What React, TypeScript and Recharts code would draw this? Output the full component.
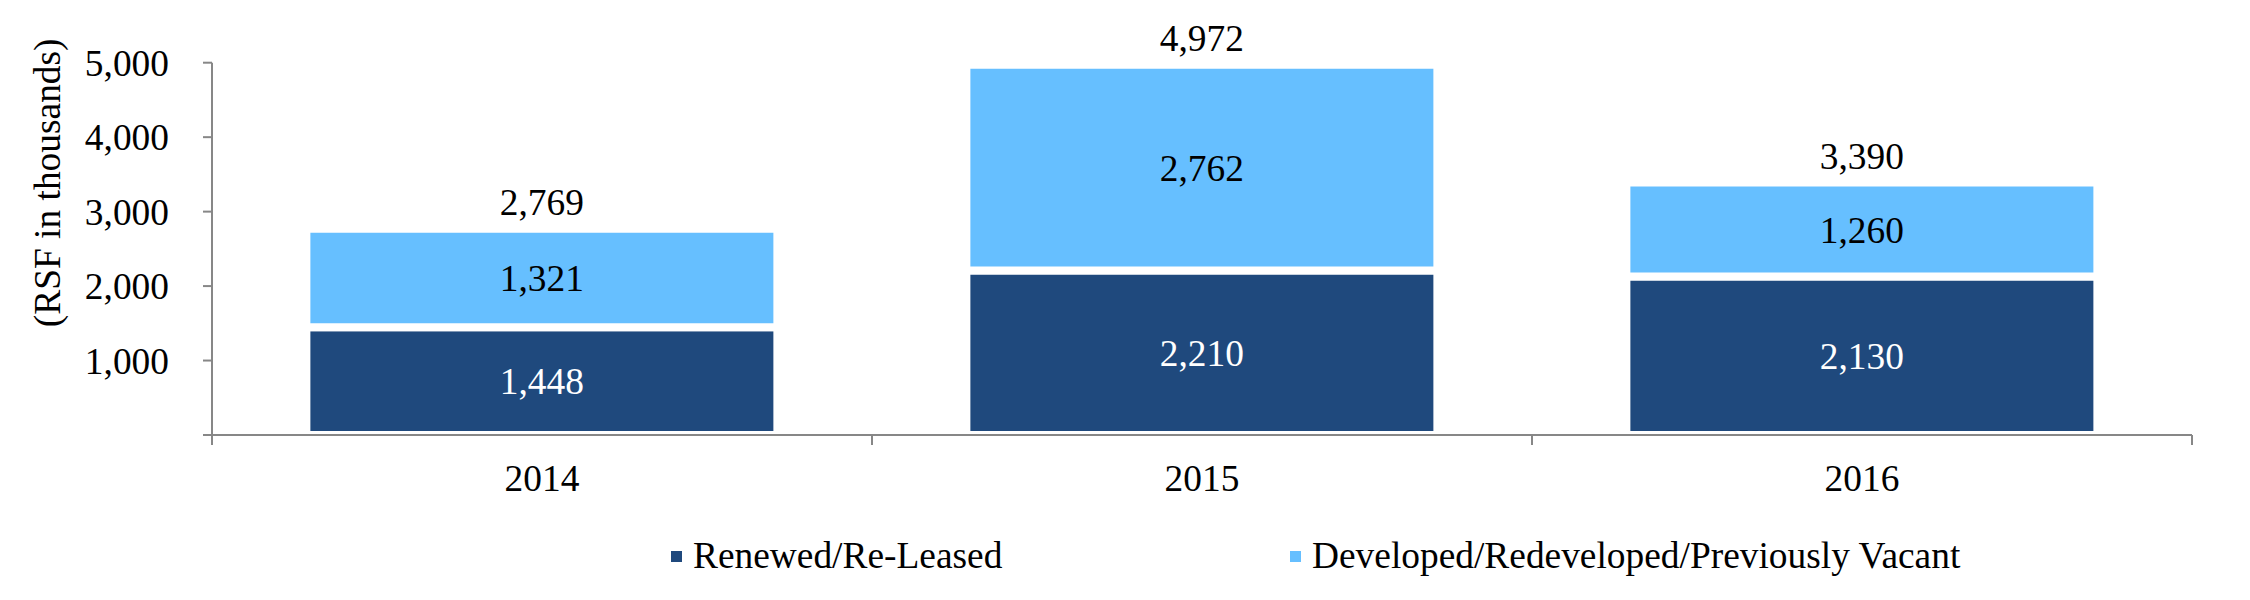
import React from 'react';
import { BarChart, Bar, XAxis, YAxis, LabelList, Legend, Label } from 'recharts';

const years = ['2014', '2015', '2016'];
const renewed = [1448, 2210, 2130];
const developed = [1321, 2762, 1260];
const totals = [2769, 4972, 3390];
const yTicks = [0, 1000, 2000, 3000, 4000, 5000];
const seriesNames = ['Renewed/Re-Leased', 'Developed/Redeveloped/Previously Vacant'];
const yAxisTitle = '(RSF in thousands)';

const data = years.map((y, i) => ({
  year: y,
  renewed: renewed[i],
  developed: developed[i],
  total: totals[i],
}));

const FONT = 'Liberation Serif, DejaVu Serif, serif';
const FS = 37.4;
const AXIS = '#878787';
const DARK = '#1F497D';
const LIGHT = '#66BFFF';
const seriesColors = [DARK, LIGHT];
const W = 2250;
const H = 600;
const MARGIN = { top: 62.7, right: 58, bottom: 105, left: 0 };
const Y_W = 212;
const X_H = 60;
const X_TICK_SIZE = 10;
const X_TICK_MARGIN = 19;

const fmt = (v: any) => Number(v).toLocaleString('en-US');

function XTick(props: any) {
  const { x, y, payload, index, visibleTicksCount } = props;
  const plotW = W - MARGIN.left - MARGIN.right - Y_W;
  const half = typeof payload?.offset === 'number' && payload.offset > 0 ? payload.offset : plotW / years.length / 2;
  const axisY = y - X_TICK_MARGIN - X_TICK_SIZE;
  return (
    <g>
      <line x1={x - half} x2={x - half} y1={axisY} y2={axisY + X_TICK_SIZE} stroke={AXIS} strokeWidth={2} />
      {index === (visibleTicksCount ?? years.length) - 1 && (
        <line x1={x + half} x2={x + half} y1={axisY} y2={axisY + X_TICK_SIZE} stroke={AXIS} strokeWidth={2} />
      )}
      <text x={x} y={y} dy="0.71em" textAnchor="middle" style={{ fontFamily: FONT }} fontSize={FS} fill="#000">
        {payload.value}
      </text>
    </g>
  );
}

function YTitle(props: any) {
  const vb = props.viewBox || { x: 0, y: MARGIN.top, width: Y_W, height: 372 };
  const cx = vb.x + 48;
  const cy = vb.y + vb.height / 2 - 66;
  return (
    <text
      x={cx}
      y={cy}
      transform={`rotate(-90, ${cx}, ${cy})`}
      textAnchor="middle"
      dominantBaseline="central"
      style={{ fontFamily: FONT }}
      fontSize={FS}
      fill="#000"
    >
      {yAxisTitle}
    </text>
  );
}

function LegendContent() {
  const starts = [671, 1290];
  return (
    <div style={{ position: 'relative', height: 51, fontFamily: FONT, fontSize: FS, color: '#000' }}>
      {seriesNames.map((name, i) => (
        <div
          key={name}
          style={{ position: 'absolute', left: starts[i], top: 0, height: 51, display: 'flex', alignItems: 'center', whiteSpace: 'nowrap' }}
        >
          <span style={{ display: 'inline-block', width: 11, height: 11, background: seriesColors[i], marginRight: 11, position: 'relative', top: 1 }} />
          <span>{name}</span>
        </div>
      ))}
    </div>
  );
}

export default function App() {
  return (
    <div style={{ position: 'absolute', left: 0, top: 0, width: W, height: H, background: '#fff', fontFamily: FONT }}>
      <BarChart width={W} height={H} data={data} margin={MARGIN} barCategoryGap="14.3%" style={{ fontFamily: FONT }}>
        <Bar dataKey="renewed" name={seriesNames[0]} stackId="a" fill={DARK} stroke="#fff" strokeWidth={8} isAnimationActive={false}>
          <LabelList dataKey="renewed" position="center" fill="#fff" fontSize={FS} style={{ fontFamily: FONT }} formatter={fmt} />
        </Bar>
        <Bar dataKey="developed" name={seriesNames[1]} stackId="a" fill={LIGHT} stroke="#fff" strokeWidth={8} isAnimationActive={false}>
          <LabelList dataKey="developed" position="center" fill="#000" fontSize={FS} style={{ fontFamily: FONT }} formatter={fmt} />
          <LabelList dataKey="total" position="top" offset={14} fill="#000" fontSize={FS} style={{ fontFamily: FONT }} formatter={fmt} />
        </Bar>
        <XAxis
          dataKey="year"
          height={X_H}
          interval={0}
          tickLine={false}
          tickSize={X_TICK_SIZE}
          tickMargin={X_TICK_MARGIN}
          axisLine={{ stroke: AXIS, strokeWidth: 2 }}
          tick={<XTick />}
        />
        <YAxis
          width={Y_W}
          domain={[0, 5000]}
          ticks={yTicks}
          interval={0}
          tickSize={9}
          tickMargin={34}
          tickLine={{ stroke: AXIS, strokeWidth: 2 }}
          axisLine={{ stroke: AXIS, strokeWidth: 2 }}
          tick={{ fill: '#000', fontSize: FS, style: { fontFamily: FONT } }}
          tickFormatter={(v: number) => (v === 0 ? '' : fmt(v))}
          label={<Label content={<YTitle />} />}
        />
        <Legend
          layout="horizontal"
          verticalAlign="middle"
          align="center"
          wrapperStyle={{ left: 0, top: 530, width: W, height: 51 }}
          content={<LegendContent />}
        />
      </BarChart>
    </div>
  );
}
